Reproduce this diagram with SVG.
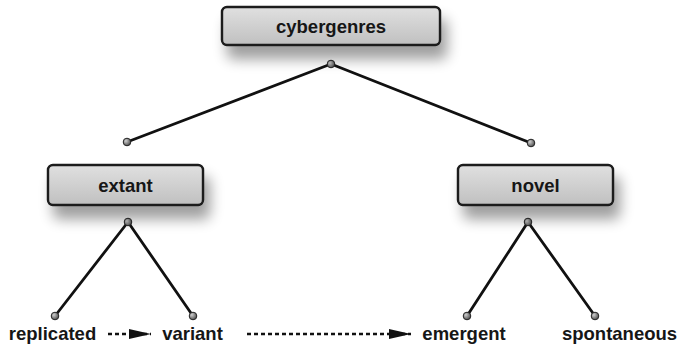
<svg xmlns="http://www.w3.org/2000/svg" width="680" height="347" viewBox="0 0 680 347">
  <style>
    .box { fill: url(#boxFill); stroke: #1a1a1a; stroke-width: 2.4; }
    .lbl { font-family: "Liberation Sans", Arial, sans-serif; font-weight: bold; font-size: 18.5px; fill: #161616; text-anchor: middle; }
    .edge { stroke: #111; stroke-width: 2.8; fill: none; stroke-linecap: round; }
    .dash { stroke: #111; stroke-width: 2.6; fill: none; stroke-dasharray: 4 3; }
    .dot { fill: url(#dotFill); stroke: #222; stroke-width: 1; }
  </style>
  <defs>
    <linearGradient id="boxFill" x1="0" y1="0" x2="0" y2="1">
      <stop offset="0" stop-color="#e0e0e0"/>
      <stop offset="1" stop-color="#c0c0c0"/>
    </linearGradient>
    <radialGradient id="dotFill" cx="0.35" cy="0.35" r="0.7">
      <stop offset="0" stop-color="#d0d0d0"/>
      <stop offset="1" stop-color="#4a4a4a"/>
    </radialGradient>
    <filter id="shadow" x="-20%" y="-40%" width="150%" height="220%">
      <feGaussianBlur in="SourceAlpha" stdDeviation="7"/>
      <feOffset dx="6" dy="13" result="b"/>
      <feComponentTransfer><feFuncA type="linear" slope="0.38"/></feComponentTransfer>
      <feMerge><feMergeNode/><feMergeNode in="SourceGraphic"/></feMerge>
    </filter>
    <marker id="arrow" viewBox="0 0 22 10" refX="22" refY="5" markerWidth="22" markerHeight="10" markerUnits="userSpaceOnUse" orient="auto">
      <path d="M0,0 L22,5 L0,10 Z" fill="#111"/>
    </marker>
  </defs>

  <g id="connectors">
    <line class="edge" x1="331" y1="64" x2="127" y2="142"/>
    <line class="edge" x1="331" y1="64" x2="531" y2="143"/>
    <line class="edge" x1="128" y1="222" x2="55" y2="316"/>
    <line class="edge" x1="128" y1="222" x2="193" y2="316"/>
    <line class="edge" x1="528" y1="222" x2="467" y2="316"/>
    <line class="edge" x1="528" y1="222" x2="595" y2="316"/>
    <line class="dash" x1="108" y1="334" x2="151" y2="334" marker-end="url(#arrow)"/>
    <line class="dash" x1="247" y1="334" x2="411" y2="334" marker-end="url(#arrow)"/>
    <circle class="dot" cx="331" cy="64" r="3.8"/>
    <circle class="dot" cx="127" cy="142" r="3.8"/>
    <circle class="dot" cx="531" cy="143" r="3.8"/>
    <circle class="dot" cx="128" cy="222" r="3.8"/>
    <circle class="dot" cx="528" cy="222" r="3.8"/>
    <circle class="dot" cx="55" cy="316" r="3.8"/>
    <circle class="dot" cx="193" cy="316" r="3.8"/>
    <circle class="dot" cx="467" cy="316" r="3.8"/>
    <circle class="dot" cx="595" cy="316" r="3.8"/>
  </g>

  <g id="cybergenres">
    <rect class="box" x="222" y="7" width="218" height="38" rx="5" filter="url(#shadow)"/>
    <text class="lbl" x="331" y="33">cybergenres</text>
  </g>
  <g id="extant">
    <rect class="box" x="48" y="165" width="155" height="40" rx="5" filter="url(#shadow)"/>
    <text class="lbl" x="125.5" y="192">extant</text>
  </g>
  <g id="novel">
    <rect class="box" x="458" y="165" width="155" height="40" rx="5" filter="url(#shadow)"/>
    <text class="lbl" x="535.5" y="192">novel</text>
  </g>
  <g id="replicated"><text class="lbl" x="52.5" y="340">replicated</text></g>
  <g id="variant"><text class="lbl" x="192.5" y="340">variant</text></g>
  <g id="emergent"><text class="lbl" x="464" y="340">emergent</text></g>
  <g id="spontaneous"><text class="lbl" x="619.5" y="340">spontaneous</text></g>
</svg>
